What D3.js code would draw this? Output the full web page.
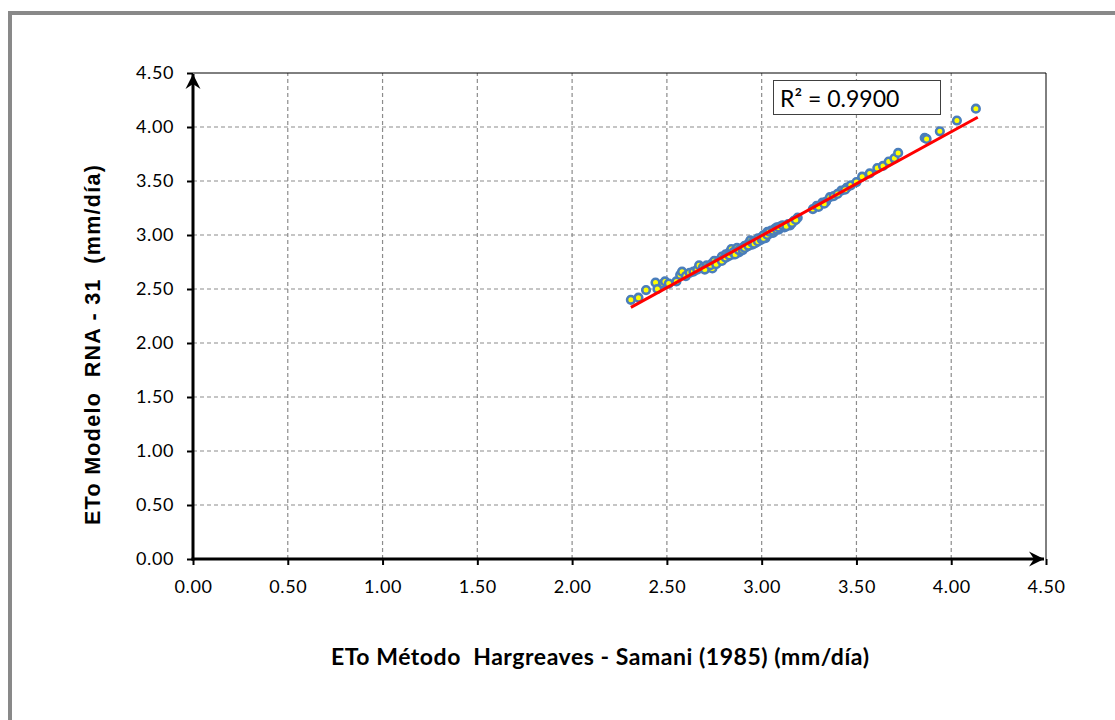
<!DOCTYPE html>
<html>
<head>
<meta charset="utf-8">
<script src="https://cdn.jsdelivr.net/npm/d3@7"></script>
<style>
  html, body { margin: 0; padding: 0; background: #fff; }
  svg { display: block; }
  text { white-space: pre; }
</style>
</head>
<body>
<svg id="chart" width="1115" height="720"></svg>
<script>
// ETo: Hargreaves-Samani (1985) vs. RNA-31 model (mm/día)
const hargreaves = [
  2.31, 2.35, 2.39, 2.44, 2.45, 2.48, 2.49, 2.51, 2.55, 2.57,
  2.58, 2.60, 2.62, 2.64, 2.66, 2.67, 2.69, 2.71, 2.72, 2.74,
  2.74, 2.75, 2.77, 2.78, 2.79, 2.80, 2.81, 2.82, 2.83, 2.84,
  2.85, 2.86, 2.87, 2.88, 2.89, 2.90, 2.91, 2.92, 2.93, 2.94,
  2.95, 2.96, 2.97, 2.98, 2.99, 3.00, 3.01, 3.02, 3.03, 3.04,
  3.05, 3.06, 3.07, 3.08, 3.09, 3.10, 3.12, 3.14, 3.15, 3.17,
  3.19, 3.27, 3.29, 3.32, 3.34, 3.36, 3.38, 3.42, 3.45, 3.47,
  3.50, 3.53, 3.57, 3.61, 3.64, 3.67, 3.70, 3.72, 3.86, 3.87,
  3.94, 4.03, 4.13,
  2.70, 2.73, 2.76, 2.79, 2.81, 2.83, 2.85, 2.86, 2.88, 2.90,
  2.91, 2.93, 2.95, 2.96, 2.98, 3.00, 3.01, 3.03, 3.04, 3.06,
  3.08, 3.09, 3.11, 3.13, 3.16, 3.18, 3.30, 3.33, 3.40, 3.44
];
const rna31 = [
  2.40, 2.42, 2.49, 2.56, 2.50, 2.55, 2.57, 2.55, 2.57, 2.63,
  2.66, 2.62, 2.65, 2.66, 2.68, 2.72, 2.70, 2.72, 2.70, 2.74,
  2.69, 2.76, 2.75, 2.77, 2.80, 2.78, 2.82, 2.80, 2.84, 2.87,
  2.82, 2.85, 2.88, 2.84, 2.87, 2.88, 2.90, 2.89, 2.92, 2.95,
  2.91, 2.94, 2.93, 2.97, 2.95, 2.98, 3.00, 2.97, 3.03, 3.01,
  3.04, 3.02, 3.06, 3.07, 3.05, 3.08, 3.07, 3.10, 3.09, 3.13,
  3.16, 3.24, 3.27, 3.30, 3.31, 3.35, 3.36, 3.41, 3.44, 3.46,
  3.49, 3.54, 3.57, 3.62, 3.64, 3.68, 3.71, 3.76, 3.90, 3.89,
  3.96, 4.06, 4.17,
  2.68, 2.72, 2.73, 2.76, 2.79, 2.81, 2.84, 2.82, 2.86, 2.86,
  2.88, 2.90, 2.93, 2.92, 2.94, 2.96, 2.97, 3.00, 3.03, 3.04,
  3.05, 3.07, 3.09, 3.08, 3.11, 3.14, 3.26, 3.29, 3.38, 3.42
];
// Linear trendline end points
const trendX = [2.31, 4.14];
const trendY = [2.33, 4.09];
const rSquaredLabel = "R² = 0.9900";

const tickValues = [0, 0.5, 1, 1.5, 2, 2.5, 3, 3.5, 4, 4.5];
const xTitle = "ETo Método  Hargreaves - Samani (1985) (mm/día)";
const yTitle = "ETo Modelo  RNA - 31  (mm/día)";

const svg = d3.select("#chart");
const labelFont = "Lato, 'Open Sans', sans-serif";

// Outer chart frame
svg.append("rect")
  .attr("x", 10).attr("y", 13)
  .attr("width", 1200).attr("height", 800)
  .attr("fill", "#fff")
  .attr("stroke", "#898989").attr("stroke-width", 4);

const x = d3.scaleLinear().domain([0, 4.5]).range([193, 1046]);
const y = d3.scaleLinear().domain([0, 4.5]).range([559, 73]);

// Gridlines
const inner = tickValues.filter(v => v > 0 && v < 4.5);
const grid = svg.append("g");
grid.selectAll(".gx").data(inner).join("line")
  .attr("x1", d => x(d)).attr("x2", d => x(d))
  .attr("y1", y(0)).attr("y2", y(4.5))
  .attr("stroke", "#8c8c8c").attr("stroke-width", 1.2)
  .attr("stroke-dasharray", "4,3");
grid.selectAll(".gy").data(inner).join("line")
  .attr("x1", x(0)).attr("x2", x(4.5))
  .attr("y1", d => y(d)).attr("y2", d => y(d))
  .attr("stroke", "#8c8c8c").attr("stroke-width", 1.2)
  .attr("stroke-dasharray", "4,3");

// Plot area top and right edges
svg.append("line")
  .attr("x1", x(0)).attr("x2", x(4.5)).attr("y1", y(4.5)).attr("y2", y(4.5))
  .attr("stroke", "#000").attr("stroke-width", 1);
svg.append("line")
  .attr("x1", x(4.5)).attr("x2", x(4.5)).attr("y1", y(4.5)).attr("y2", y(0))
  .attr("stroke", "#000").attr("stroke-width", 1);

// Axes
const xAxis = d3.axisBottom(x).tickValues(tickValues).tickFormat(d3.format(".2f"))
  .tickSize(6).tickPadding(15);
const yAxis = d3.axisLeft(y).tickValues(tickValues).tickFormat(d3.format(".2f"))
  .tickSize(6).tickPadding(13);

const gx = svg.append("g").attr("transform", `translate(0,${y(0)})`).call(xAxis);
const gy = svg.append("g").attr("transform", `translate(${x(0)},0)`).call(yAxis);
[gx, gy].forEach(g => {
  g.select(".domain").remove();
  g.selectAll(".tick line").attr("stroke", "#000").attr("stroke-width", 2);
  g.selectAll(".tick text")
    .attr("font-family", labelFont).attr("font-size", 18)
    .attr("letter-spacing", 0.6).attr("fill", "#000");
});

// Axis lines with arrowheads
svg.append("defs").append("marker")
  .attr("id", "arrow")
  .attr("viewBox", "-16 -8 18 16")
  .attr("refX", 0).attr("refY", 0)
  .attr("markerWidth", 18).attr("markerHeight", 16)
  .attr("markerUnits", "userSpaceOnUse")
  .attr("orient", "auto")
  .append("path")
  .attr("d", "M0,0 L-15,-7.5 L-10,0 L-15,7.5 Z")
  .attr("fill", "#000");

svg.append("line")
  .attr("x1", x(0) - 1.5).attr("x2", x(4.5) - 2)
  .attr("y1", y(0)).attr("y2", y(0))
  .attr("stroke", "#000").attr("stroke-width", 3)
  .attr("marker-end", "url(#arrow)");
svg.append("line")
  .attr("x1", x(0)).attr("x2", x(0))
  .attr("y1", y(0) + 1.5).attr("y2", y(4.5) + 1)
  .attr("stroke", "#000").attr("stroke-width", 3)
  .attr("marker-end", "url(#arrow)");

// Scatter points
const points = hargreaves.map((h, i) => ({ h, r: rna31[i] }));
svg.append("g").selectAll("circle").data(points).join("circle")
  .attr("cx", d => x(d.h)).attr("cy", d => y(d.r))
  .attr("r", 3.8)
  .attr("fill", "#ffff00")
  .attr("stroke", "#4a7ebb").attr("stroke-width", 2.6);

// Linear trendline
svg.append("line")
  .attr("x1", x(trendX[0])).attr("y1", y(trendY[0]))
  .attr("x2", x(trendX[1])).attr("y2", y(trendY[1]))
  .attr("stroke", "#ff0000").attr("stroke-width", 3);

// R² label
svg.append("rect")
  .attr("x", 773.5).attr("y", 80.5).attr("width", 167).attr("height", 34)
  .attr("fill", "#fff").attr("stroke", "#404040").attr("stroke-width", 1);
svg.append("text")
  .attr("x", 780).attr("y", 107)
  .attr("font-family", labelFont).attr("font-size", 23).attr("fill", "#000")
  .text(rSquaredLabel);

// Axis titles
svg.append("text")
  .attr("x", 331).attr("y", 665)
  .attr("font-family", labelFont).attr("font-weight", "bold")
  .attr("font-size", 23).attr("fill", "#000")
  .attr("textLength", 538).attr("lengthAdjust", "spacing")
  .text(xTitle);
svg.append("text")
  .attr("transform", "translate(100,525) rotate(-90)")
  .attr("font-family", "'Liberation Sans', Arial, sans-serif").attr("font-weight", "bold")
  .attr("font-size", 21.5).attr("fill", "#000")
  .attr("textLength", 360).attr("lengthAdjust", "spacing")
  .text(yTitle);
</script>
</body>
</html>
